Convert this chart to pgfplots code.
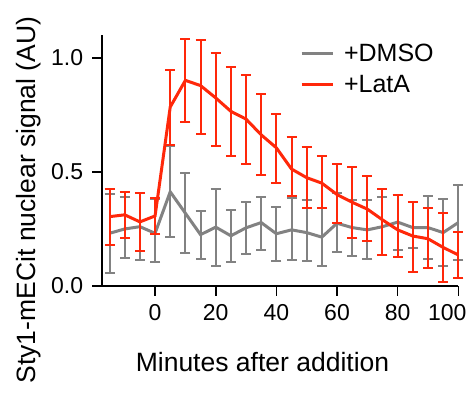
\documentclass[border=0pt]{standalone}
\usepackage{pgfplots}
\usepackage{pgfplotstable}
\pgfplotsset{compat=1.18}
\usepackage{fontspec}
\setmainfont{Liberation Sans}
\definecolor{latred}{RGB}{255,40,10}
\definecolor{dmsogray}{RGB}{130,130,130}

\pgfplotstableread{
x y lo hi
-15 0.230 0.054 0.404
-10 0.249 0.123 0.390
-5 0.259 0.113 0.406
0 0.230 0.106 0.382
5 0.412 0.213 0.614
10 0.318 0.142 0.494
15 0.224 0.117 0.326
20 0.257 0.088 0.425
25 0.219 0.102 0.334
30 0.254 0.139 0.367
35 0.277 0.157 0.391
40 0.228 0.109 0.344
45 0.245 0.113 0.384
50 0.233 0.109 0.377
55 0.213 0.087 0.340
60 0.274 0.150 0.406
65 0.255 0.131 0.374
70 0.245 0.117 0.374
75 0.259 0.135 0.391
80 0.279 0.157 0.399
85 0.255 0.164 0.367
90 0.255 0.117 0.394
95 0.233 0.087 0.380
100 0.277 0.113 0.443
}\dmsotab
\pgfplotstableread{
x y lo hi
-15 0.303 0.179 0.425
-10 0.311 0.210 0.409
-5 0.280 0.154 0.408
0 0.306 0.229 0.386
5 0.784 0.618 0.945
10 0.901 0.718 1.084
15 0.878 0.667 1.077
20 0.824 0.615 1.021
25 0.765 0.570 0.958
30 0.731 0.534 0.926
35 0.662 0.484 0.843
40 0.605 0.449 0.752
45 0.512 0.393 0.652
50 0.474 0.342 0.607
55 0.450 0.340 0.567
60 0.400 0.274 0.535
65 0.366 0.208 0.520
70 0.336 0.196 0.482
75 0.289 0.135 0.425
80 0.245 0.128 0.396
85 0.218 0.060 0.366
90 0.206 0.076 0.339
95 0.168 0.016 0.318
100 0.135 0.032 0.237
}\lattab

\begin{document}
\begin{tikzpicture}
\path[use as bounding box] (-102.3pt,-108.3pt) rectangle (367.7pt,285.7pt);
\begin{axis}[
  at={(0pt,0pt)}, anchor=south west,
  scale only axis,
  width=356pt, height=250.7pt,
  xmin=-17.4, xmax=100,
  ymin=0, ymax=1.1,
  axis x line*=bottom, axis y line*=left,
  axis line style={line width=1.6pt, black},
  xtick={0,20,...,100},
  xticklabels={0,20,40,60,80,{\hspace*{-22pt}100}},
  ytick={0,0.5,1},
  tick align=outside,
  major tick length=10pt,
  tick style={line width=1.6pt, black},
  /pgf/number format/assume math mode=true,
  ticklabel style={font=\fontsize{23}{27}\selectfont, inner sep=0pt},
  yticklabel style={/pgf/number format/fixed, /pgf/number format/fixed zerofill, /pgf/number format/precision=1, xshift=-9pt},
  xticklabel style={yshift=-8.3pt},
  xlabel={Minutes after addition},
  ylabel={Sty1-mECit nuclear signal (AU)},
  xlabel style={font=\fontsize{26.5}{30}\selectfont, at={(axis description cs:0.45,0)}, anchor=base, yshift=-86pt, inner sep=0pt},
  ylabel style={font=\fontsize{26.5}{30}\selectfont, at={(axis description cs:-0.2079,0.342)}, anchor=center, inner sep=0pt},
  legend style={at={(axis description cs:0.555,0.964)}, anchor=north west, draw=none, fill=none,
    font=\fontsize{25}{29}\selectfont, row sep=12pt, column sep=10pt, inner sep=0pt,
    nodes={inner sep=0pt}},
  legend cell align=left,
  legend image code/.code={\draw[#1, line width=3pt] (0pt,0pt) -- (31pt,0pt);},
  clip=false,
]
\addplot[dmsogray, line width=3pt, no markers,
  error bars/.cd, y dir=both, y explicit,
  error bar style={line width=2pt, dmsogray},
  error mark options={dmsogray, line width=2pt, mark size=5pt, rotate=90}]
  table[x=x, y=y, y error plus expr=\thisrow{hi}-\thisrow{y}, y error minus expr=\thisrow{y}-\thisrow{lo}] {\dmsotab};
\addlegendentry{+DMSO}
\addplot[latred, line width=3pt, no markers,
  error bars/.cd, y dir=both, y explicit,
  error bar style={line width=2pt, latred},
  error mark options={latred, line width=2pt, mark size=5pt, rotate=90}]
  table[x=x, y=y, y error plus expr=\thisrow{hi}-\thisrow{y}, y error minus expr=\thisrow{y}-\thisrow{lo}] {\lattab};
\addlegendentry{+LatA}
\end{axis}
\end{tikzpicture}
\end{document}
